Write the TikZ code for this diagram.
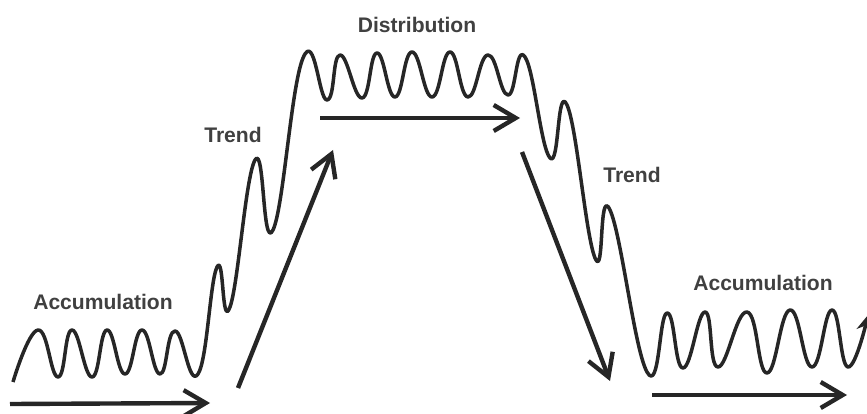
\documentclass[tikz,border=0pt]{standalone}
\usepackage{fontspec}
\setmainfont{Liberation Sans}
\usetikzlibrary{
    positioning,
    arrows.meta
}
\tikzset{
    > = {Straight Barb[length=2.2mm, width=2.6mm]},
    wave/.style = {line width=1pt, black!85, line join=round},
    move/.style = {line width=1.25pt, black!85, ->},
    phase/.style = {font=\fontsize{6}{7}\selectfont\bfseries, text=black!75, inner sep=0pt},
}
\begin{document}
\begin{tikzpicture}
\useasboundingbox (0,0) rectangle (8.67,4.13);

% price line
\draw[wave, -{Stealth[length=1.6mm, width=1.6mm]}] plot[smooth, tension=0.8] coordinates {
    (0.13,0.31) (0.38,0.83) (0.58,0.36) (0.72,0.83) (0.92,0.36) (1.07,0.83)
    (1.25,0.39) (1.42,0.83) (1.60,0.39) (1.75,0.82) (1.98,0.39)
    (2.17,1.46) (2.30,1.06) (2.55,2.53) (2.73,1.83) (3.03,3.55) (3.27,3.13)
    (3.40,3.58) (3.62,3.15) (3.77,3.60) (3.95,3.16) (4.12,3.61) (4.32,3.16)
    (4.50,3.61) (4.68,3.16) (4.88,3.58) (5.08,3.18) (5.25,3.56)
    (5.50,2.55) (5.67,3.08) (5.95,1.55) (6.10,2.03) (6.47,0.41)
    (6.67,1.00) (6.83,0.45) (7.05,1.01) (7.18,0.46) (7.47,1.01) (7.67,0.40)
    (7.90,1.03) (8.12,0.46) (8.32,1.03) (8.48,0.46) (8.68,0.98)};

% phase arrows
\draw[move] (0.10,0.09) -- (2.10,0.10);
\draw[move] (2.38,0.25) -- (3.33,2.63);
\draw[move] (3.20,2.95) -- (5.20,2.95);
\draw[move] (5.22,2.61) -- (6.10,0.32);
\draw[move] (6.52,0.18) -- (8.47,0.18);

% phase names
\node[phase] (accleft) at (1.03,1.11) {Accumulation};
\node[phase] (trendup) at (2.33,2.78) {Trend};
\node[phase] (distrib) at (4.17,3.88) {Distribution};
\node[phase] (trenddown) at (6.32,2.38) {Trend};
\node[phase] (accright) at (7.63,1.30) {Accumulation};
\end{tikzpicture}
\end{document}
